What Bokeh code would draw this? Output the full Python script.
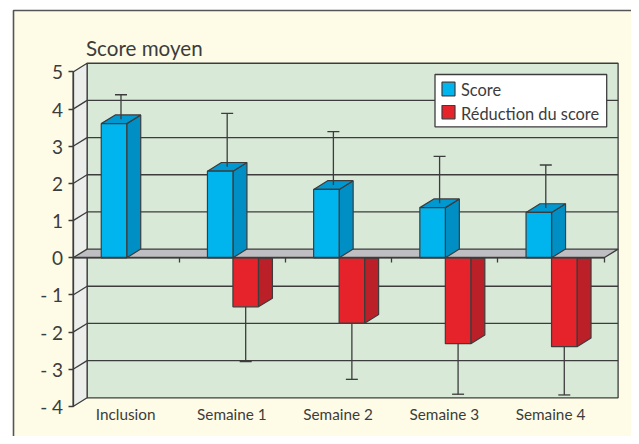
from bokeh.plotting import figure
from bokeh.models import (Range1d, LinearAxis, FixedTicker, Label)
from bokeh.core.properties import value
from bokeh.embed import file_html
from bokeh.resources import INLINE

# ---- data
categories = ["Inclusion", "Semaine 1", "Semaine 2", "Semaine 3", "Semaine 4"]
score = [3.61, 2.33, 1.84, 1.35, 1.22]
score_err_top = [4.27, 3.77, 3.28, 2.61, 2.38]
reduction = [-1.32, -1.76, -2.31, -2.39]
reduction_err_low = [-2.79, -3.27, -3.67, -3.69]
reduction_cats = [1, 2, 3, 4]
y_ticks = [-4, -3, -2, -1, 0, 1, 2, 3, 4, 5]
y_labels = {t: (f"- {abs(t)}" if t < 0 else str(t)) for t in y_ticks}
legend_labels = ["Score", "Réduction du score"]

# ---- layout
FONT = "Lato"
INK = "#3c3c3c"
BLUE, RED = "#00B5EE", "#E6222A"
W, H = 631, 436
PX_U, PX_V = 106.2, 37.17        # pixels per category / per score unit
X0, Y0 = 72.6, 257.3             # position of the front-left zero
DX, DY = 14 / PX_U, 8.7 / PX_V   # 3-D depth in data units
BW = 25.5 / PX_U                 # bar width
B_OFF, R_OFF = 0.265, 0.505      # bar offsets within a category
CAP = 6 / PX_U


def ux(px):
    return (px - X0) / PX_U


def vy(py):
    return (Y0 - py) / PX_V


p = figure(width=W, height=H, output_backend="svg", toolbar_location=None,
           x_range=Range1d(ux(0), ux(W)), y_range=Range1d(vy(H), vy(0)),
           min_border=0, x_axis_type=None, y_axis_type=None,
           background_fill_color="white", border_fill_color="white",
           outline_line_color=None)
p.grid.visible = False

# page panel
p.quad(left=ux(13), right=ux(660), top=vy(10), bottom=vy(470),
       fill_color="#FEFCE6", line_color="#555555", line_width=1.6)

ymin, ymax = y_ticks[0], y_ticks[-1]
xmax = len(categories)

# back wall and left wall
p.quad(left=DX, right=xmax + DX, bottom=ymin + DY, top=ymax + DY,
       fill_color="#D9E9D8", line_color=INK, line_width=1.3)
p.patch([0, DX, DX, 0], [ymin, ymin + DY, ymax + DY, ymax],
        fill_color="#ECEEEC", line_color=INK, line_width=1.3)

# grid lines on the walls
for t in y_ticks[1:-1]:
    if t != 0:
        p.line([DX, xmax + DX], [t + DY, t + DY], line_color=INK, line_width=1.3)
        p.line([0, DX], [t, t + DY], line_color=INK, line_width=1.3)

# red sides sit behind the floor slab
r_left = [c + R_OFF for c in reduction_cats]
r_right = [l + BW for l in r_left]
p.patches([[r, r + DX, r + DX, r] for r in r_right],
          [[0, 0, v + DY, v] for v in reduction],
          fill_color="#BB2029", line_color=INK, line_width=1.2)

# floor at zero
p.patch([0, DX, xmax + DX, xmax], [0, DY, DY, 0],
        fill_color="#BFBFC3", line_color=INK, line_width=1.3)

# axes
yax = LinearAxis(ticker=FixedTicker(ticks=y_ticks), major_label_overrides=y_labels,
                 fixed_location=0, bounds=(ymin, ymax),
                 axis_line_color=INK, axis_line_width=1.3,
                 major_tick_line_color=INK, major_tick_line_width=1.3,
                 major_tick_in=0, major_tick_out=5, minor_tick_line_color=None,
                 major_label_standoff=5, major_label_text_font=FONT,
                 major_label_text_font_size="19px", major_label_text_color=INK)
p.add_layout(yax, "left")

xax0 = LinearAxis(ticker=FixedTicker(ticks=list(range(1, xmax + 1))),
                  fixed_location=0, bounds=(0, xmax),
                  axis_line_color=INK, axis_line_width=1.3,
                  major_tick_line_color=INK, major_tick_line_width=1.3,
                  major_tick_in=0, major_tick_out=5, minor_tick_line_color=None,
                  major_label_text_color=None, major_label_text_font_size="1px")
p.add_layout(xax0, "below")

cat_pos = [i + 0.495 for i in range(xmax)]
xax1 = LinearAxis(ticker=FixedTicker(ticks=cat_pos),
                  major_label_overrides=dict(zip(cat_pos, categories)),
                  fixed_location=ymin, axis_line_color=None,
                  major_tick_line_color=None, minor_tick_line_color=None,
                  major_label_standoff=-7, major_label_text_font=FONT,
                  major_label_text_font_size="15.3px", major_label_text_color=INK)
p.add_layout(xax1, "below")

# red bars
p.quad(left=r_left, right=r_right, top=0, bottom=reduction,
       fill_color=RED, line_color=INK, line_width=1.2)
r_mid = [l + BW / 2 for l in r_left]
p.segment(r_mid, reduction, r_mid, reduction_err_low, line_color=INK, line_width=1.3)
p.segment([m - CAP for m in r_mid], reduction_err_low, [m + CAP for m in r_mid],
          reduction_err_low, line_color=INK, line_width=1.3)

# blue bars
b_left = [i + B_OFF for i in range(xmax)]
b_right = [l + BW for l in b_left]
p.patches([[r, r + DX, r + DX, r] for r in b_right],
          [[0, DY, v + DY, v] for v in score],
          fill_color="#008FC4", line_color=INK, line_width=1.2)
p.patches([[l, l + DX, r + DX, r] for l, r in zip(b_left, b_right)],
          [[v, v + DY, v + DY, v] for v in score],
          fill_color="#0098D0", line_color=INK, line_width=1.2)
p.quad(left=b_left, right=b_right, top=score, bottom=0,
       fill_color=BLUE, line_color=INK, line_width=1.2)
b_mid = [l + BW / 2 + DX / 2 for l in b_left]
b_base = [v + DY / 2 for v in score]
b_tops = [v + DY / 2 for v in score_err_top]
p.segment(b_mid, b_base, b_mid, b_tops, line_color=INK, line_width=1.3)
p.segment([m - CAP for m in b_mid], b_tops, [m + CAP for m in b_mid], b_tops,
          line_color=INK, line_width=1.3)

# title of the value axis
p.add_layout(Label(x=ux(85.5), y=vy(59), text="Score moyen", text_font=FONT,
                   text_font_size="20.6px", text_color=INK))

# legend box, swatches and labels
p.quad(left=ux(434.5), right=ux(606.2), top=vy(74), bottom=vy(126.3),
       fill_color="white", line_color=INK, line_width=1.3)
sw_top = [vy(81.7), vy(105)]
sw_bot = [vy(95.3), vy(118.3)]
p.quad(left=ux(441.5), right=ux(454.5), top=sw_top, bottom=sw_bot,
       fill_color=[BLUE, RED], line_color=INK, line_width=1.2)
p.text(x=[ux(460.5)] * 2, y=[vy(89), vy(112.5)], text=legend_labels,
       text_font=value(FONT), text_font_size="16.4px", text_color=INK,
       text_baseline="middle", text_align="left")

open("out.html", "w").write(file_html(p, INLINE))
